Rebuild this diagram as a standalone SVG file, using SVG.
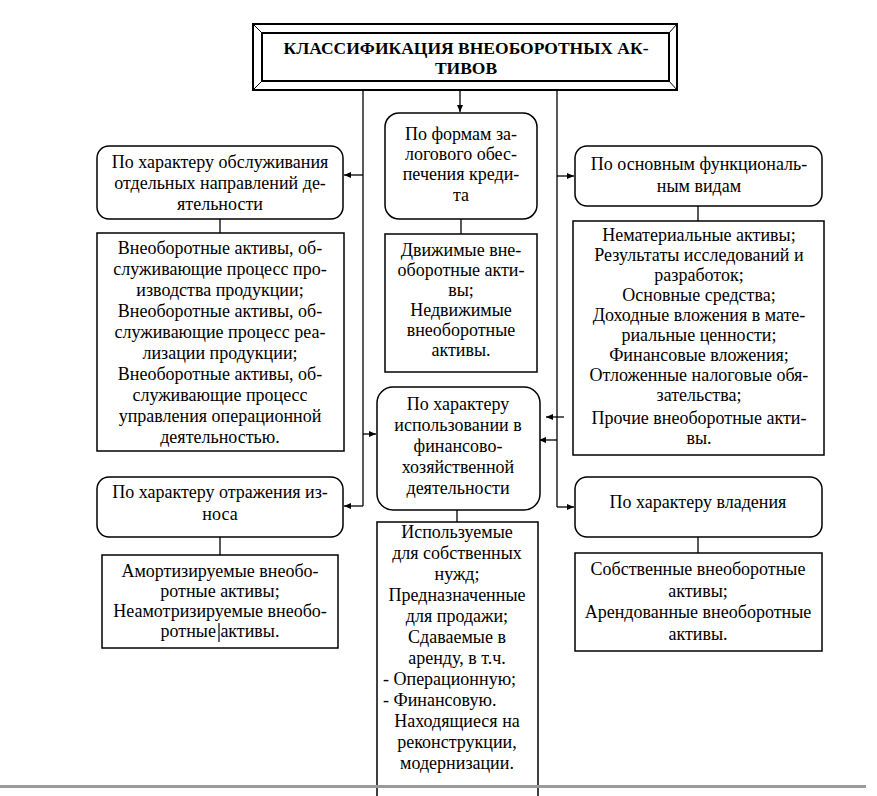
<svg xmlns="http://www.w3.org/2000/svg" width="877" height="796" viewBox="0 0 877 796" font-family="Liberation Serif, Noto Serif, DejaVu Serif, Times New Roman, serif">
<style>
.t{font-size:18px;fill:#000;text-anchor:middle}
.l{text-anchor:start}
.tt{font-size:17.5px;font-weight:bold;fill:#000;text-anchor:middle}
.b{fill:#fff;stroke:#000;stroke-width:1.5}
.c{fill:none;stroke:#000;stroke-width:1.3}
</style>
<defs>
<marker id="ah" markerWidth="8" markerHeight="8" refX="7" refY="4" orient="auto" markerUnits="userSpaceOnUse">
<path d="M0,1 L7,4 L0,7 Z" fill="#000"/>
</marker>
</defs>
<rect width="877" height="796" fill="#fff"/>

<g id="connectors">
<path class="c" d="M363,89 V506"/>
<path class="c" d="M557,89 V507"/>
<path class="c" d="M460,89 V112" marker-end="url(#ah)"/>
<path class="c" d="M363,175 H344" marker-end="url(#ah)"/>
<path class="c" d="M557,176 H574" marker-end="url(#ah)"/>
<path class="c" d="M363,434 H376" marker-end="url(#ah)"/>
<path class="c" d="M557,440 H539" marker-end="url(#ah)"/>
<path class="c" d="M564,417 H546" marker-end="url(#ah)"/>
<path class="c" d="M363,506 H344" marker-end="url(#ah)"/>
<path class="c" d="M557,507 H574" marker-end="url(#ah)"/>
<path class="c" d="M220,219 V233"/>
<path class="c" d="M461,219 V234"/>
<path class="c" d="M698,206 V221"/>
<path class="c" d="M457,510 V522"/>
<path class="c" d="M220,537 V555"/>
<path class="c" d="M698,537 V553"/>
</g>

<g id="title">
<rect x="253" y="24" width="424" height="66" fill="#fff" stroke="#000" stroke-width="2"/>
<rect x="262" y="33" width="407" height="48" fill="#fff" stroke="#000" stroke-width="2"/>
<path d="M253,24 L262,33 M677,24 L669,33 M253,90 L262,81 M677,90 L669,81" stroke="#000" stroke-width="1"/>
<text class="tt" x="466" y="54">КЛАССИФИКАЦИЯ ВНЕОБОРОТНЫХ АК-</text>
<text class="tt" x="466" y="74">ТИВОВ</text>
</g>

<g id="n1">
<rect class="b" x="97" y="146" width="246" height="73" rx="12"/>
<text class="t" x="220" y="168">По характеру обслуживания</text>
<text class="t" x="220" y="189">отдельных направлений де-</text>
<text class="t" x="220" y="210">ятельности</text>
</g>
<g id="n1a">
<rect class="b" x="97" y="233" width="247" height="218"/>
<text class="t" x="220" y="254">Внеоборотные активы, об-</text>
<text class="t" x="220" y="275">служивающие процесс про-</text>
<text class="t" x="220" y="296">изводства продукции;</text>
<text class="t" x="220" y="317">Внеоборотные активы, об-</text>
<text class="t" x="220" y="338">служивающие процесс реа-</text>
<text class="t" x="220" y="359">лизации продукции;</text>
<text class="t" x="220" y="380">Внеоборотные активы, об-</text>
<text class="t" x="220" y="401">служивающие процесс</text>
<text class="t" x="220" y="422">управления операционной</text>
<text class="t" x="220" y="443">деятельностью.</text>
</g>

<g id="n2">
<rect class="b" x="385" y="113" width="152" height="106" rx="14"/>
<text class="t" x="461" y="140">По формам за-</text>
<text class="t" x="461" y="160">логового обес-</text>
<text class="t" x="461" y="180">печения креди-</text>
<text class="t" x="461" y="201">та</text>
</g>
<g id="n2a">
<rect class="b" x="385" y="234" width="152" height="138"/>
<text class="t" x="461" y="256">Движимые вне-</text>
<text class="t" x="461" y="276">оборотные акти-</text>
<text class="t" x="461" y="296">вы;</text>
<text class="t" x="461" y="316">Недвижимые</text>
<text class="t" x="461" y="336">внеоборотные</text>
<text class="t" x="461" y="356">активы.</text>
</g>

<g id="n3">
<rect class="b" x="575" y="146" width="247" height="60" rx="12"/>
<text class="t" x="699" y="170">По основным функциональ-</text>
<text class="t" x="699" y="192">ным видам</text>
</g>
<g id="n3a">
<rect class="b" x="573" y="221" width="251" height="234"/>
<text class="t" x="699" y="241">Нематериальные активы;</text>
<text class="t" x="699" y="261">Результаты исследований и</text>
<text class="t" x="699" y="281">разработок;</text>
<text class="t" x="699" y="301">Основные средства;</text>
<text class="t" x="699" y="321">Доходные вложения в мате-</text>
<text class="t" x="699" y="341">риальные ценности;</text>
<text class="t" x="699" y="361">Финансовые вложения;</text>
<text class="t" x="699" y="381">Отложенные налоговые обя-</text>
<text class="t" x="699" y="401">зательства;</text>
<text class="t" x="699" y="424">Прочие внеоборотные акти-</text>
<text class="t" x="699" y="444">вы.</text>
</g>

<g id="n4">
<rect class="b" x="377" y="387" width="163" height="123" rx="16"/>
<text class="t" x="458" y="410">По характеру</text>
<text class="t" x="458" y="431">использовании в</text>
<text class="t" x="458" y="452">финансово-</text>
<text class="t" x="458" y="473">хозяйственной</text>
<text class="t" x="458" y="494">деятельности</text>
</g>
<g id="n4a">
<path class="b" d="M377,800 V522 H538 V800"/>
<text class="t" x="457" y="538">Используемые</text>
<text class="t" x="457" y="559">для собственных</text>
<text class="t" x="457" y="580">нужд;</text>
<text class="t" x="457" y="601">Предназначенные</text>
<text class="t" x="457" y="622">для продажи;</text>
<text class="t" x="457" y="643">Сдаваемые в</text>
<text class="t" x="457" y="664">аренду, в т.ч.</text>
<text class="t l" x="383" y="685">- Операционную;</text>
<text class="t l" x="383" y="706">- Финансовую.</text>
<text class="t" x="457" y="727">Находящиеся на</text>
<text class="t" x="457" y="748">реконструкции,</text>
<text class="t" x="457" y="769">модернизации.</text>
</g>

<g id="n5">
<rect class="b" x="97" y="477" width="246" height="60" rx="12"/>
<text class="t" x="220" y="498">По характеру отражения из-</text>
<text class="t" x="220" y="520">носа</text>
</g>
<g id="n5a">
<rect class="b" x="102" y="555" width="236" height="93"/>
<text class="t" x="220" y="577">Амортизируемые внеобо-</text>
<text class="t" x="220" y="597">ротные активы;</text>
<text class="t" x="220" y="617">Неамотризируемые внеобо-</text>
<text class="t" x="220" y="637">ротные активы.</text>
<path d="M219,623 V642" stroke="#000" stroke-width="1.2"/>
</g>

<g id="n6">
<rect class="b" x="575" y="477" width="247" height="60" rx="12"/>
<text class="t" x="698" y="508">По характеру владения</text>
</g>
<g id="n6a">
<rect class="b" x="575" y="553" width="247" height="98"/>
<text class="t" x="698" y="575">Собственные внеоборотные</text>
<text class="t" x="698" y="597">активы;</text>
<text class="t" x="698" y="618">Арендованные внеоборотные</text>
<text class="t" x="698" y="640">активы.</text>
</g>

<rect x="0" y="785" width="866" height="3" fill="#9a9a9a"/>
</svg>
